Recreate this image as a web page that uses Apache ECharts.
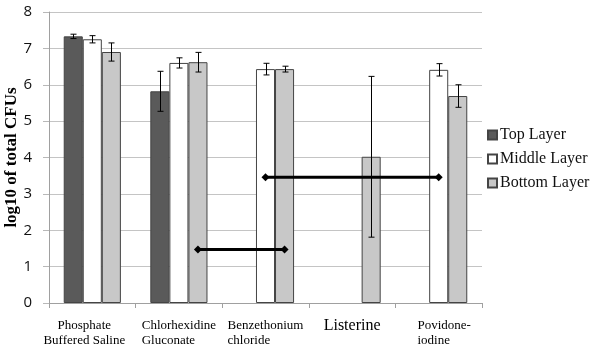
<!DOCTYPE html>
<html>
<head>
<meta charset="utf-8">
<script src="https://cdn.jsdelivr.net/npm/echarts@6/dist/echarts.min.js"></script>
<style>
  html, body { margin: 0; padding: 0; background: #fff; }
  #chart { width: 600px; height: 351px; }
</style>
</head>
<body>
<div id="chart"></div>
<script>
// data
const categories = ['Phosphate\nBuffered Saline', 'Chlorhexidine\nGluconate', 'Benzethonium\nchloride', 'Listerine', 'Povidone-\niodine'];
const layers = ['Top Layer', 'Middle Layer', 'Bottom Layer'];
const topLayer = [7.33, 5.82, '-', '-', '-'];
const middleLayer = [7.25, 6.60, 6.43, '-', 6.41];
const bottomLayer = [6.90, 6.62, 6.43, 4.02, 5.69];
const topErr = [0.06, 0.55, null, null, null];
const middleErr = [0.10, 0.14, 0.16, null, 0.17];
const bottomErr = [0.25, 0.27, 0.08, 2.21, 0.31];
// connectors: [fromCategory, fromLayer, toCategory, toLayer, y]
const connectors = [
  [1, 2, 2, 2, 1.47],
  [2, 1, 4, 1, 3.46]
];
const yTicks = [0, 1, 2, 3, 4, 5, 6, 7, 8];

const colors = ['#5a5a5a', '#ffffff', '#c8c8c8'];
const barShare = 0.22; // fraction of a category taken by one bar
// label style per category (the original labels are not all aligned alike)
const labelStyles = ['c', 'l', 'l', 'big', 'p'];

const chart = echarts.init(document.getElementById('chart'));

function errSeries(vals, errs, layer) {
  const data = [];
  vals.forEach((v, i) => {
    if (errs[i] != null && v !== '-') data.push([i, v - errs[i], v + errs[i]]);
  });
  return {
    type: 'custom',
    z: 5,
    silent: true,
    data: data,
    renderItem: function (params, api) {
      const band = api.size([1, 0])[0];
      const off = (layer - 1) * barShare * band;
      const lo = api.coord([api.value(0), api.value(1)]);
      const hi = api.coord([api.value(0), api.value(2)]);
      const x = Math.round(lo[0] + off) + 0.5;
      const style = { stroke: '#000', lineWidth: 1 };
      return {
        type: 'group',
        children: [
          { type: 'line', shape: { x1: x, y1: lo[1], x2: x, y2: hi[1] }, style: style },
          { type: 'line', shape: { x1: x - 3, y1: lo[1], x2: x + 3, y2: lo[1] }, style: style },
          { type: 'line', shape: { x1: x - 3, y1: hi[1], x2: x + 3, y2: hi[1] }, style: style }
        ]
      };
    }
  };
}

function diamond(x, y, r) {
  return { type: 'polygon', shape: { points: [[x, y - r], [x + r, y], [x, y + r], [x - r, y]] }, style: { fill: '#000' } };
}

const barStyle = (c) => ({ color: c, borderColor: '#444', borderWidth: 1 });
const serif = 'Liberation Serif';

chart.setOption({
  animation: false,
  grid: { left: 49, right: 118, top: 12, bottom: 48, outerBoundsMode: 'none', containLabel: false },
  legend: {
    orient: 'vertical',
    left: 487,
    top: 127,
    padding: 0,
    itemWidth: 9,
    itemHeight: 9,
    itemGap: 8,
    icon: 'rect',
    data: layers,
    textStyle: { fontFamily: serif, fontSize: 16, color: '#111', padding: [0, 0, 0, -2] }
  },
  xAxis: {
    type: 'category',
    data: categories,
    axisLine: { lineStyle: { color: '#a0a0a0' } },
    axisTick: { show: true, length: 5, lineStyle: { color: '#a0a0a0' } },
    axisLabel: {
      interval: 0,
      margin: 15,
      formatter: function (v, i) {
        const st = labelStyles[i];
        return v.split('\n').map(s => '{' + st + '|' + s + '}').join('\n');
      },
      rich: {
        l: { align: 'left', fontFamily: serif, fontSize: 13, color: '#000', lineHeight: 15 },
        c: { align: 'center', fontFamily: serif, fontSize: 13, color: '#000', lineHeight: 15, padding: [0, 16, 0, 0] },
        p: { align: 'left', fontFamily: serif, fontSize: 13, color: '#000', lineHeight: 15, padding: [0, 0, 0, 11] },
        big: { fontFamily: serif, fontSize: 16, color: '#000', padding: [0, 0, 12, 0] }
      }
    }
  },
  yAxis: {
    type: 'value',
    min: 0,
    max: 8,
    interval: 1,
    name: 'log10 of total CFUs',
    nameLocation: 'middle',
    nameGap: 29,
    nameMoveOverlap: false,
    nameTextStyle: { fontFamily: serif, fontWeight: 'bold', fontSize: 17, color: '#000' },
    axisLine: { show: true, lineStyle: { color: '#a0a0a0' } },
    axisTick: { show: true, length: 6, lineStyle: { color: '#b8b8b8' } },
    axisLabel: {
      margin: 17,
      fontFamily: 'Open Sans',
      fontSize: 15,
      color: '#111',
      formatter: v => yTicks.includes(v) ? String(v) : ''
    },
    splitLine: { lineStyle: { color: '#c4c4c4' } }
  },
  series: [
    { name: layers[0], type: 'bar', data: topLayer, barGap: '0%', barCategoryGap: '34%', itemStyle: barStyle(colors[0]) },
    { name: layers[1], type: 'bar', data: middleLayer, barGap: '0%', barCategoryGap: '34%', itemStyle: barStyle(colors[1]) },
    { name: layers[2], type: 'bar', data: bottomLayer, barGap: '0%', barCategoryGap: '34%', itemStyle: barStyle(colors[2]) },
    errSeries(topLayer, topErr, 0),
    errSeries(middleLayer, middleErr, 1),
    errSeries(bottomLayer, bottomErr, 2),
    {
      type: 'custom',
      z: 6,
      silent: true,
      data: connectors,
      renderItem: function (params, api) {
        const band = api.size([1, 0])[0];
        const a = api.coord([api.value(0), api.value(4)]);
        const b = api.coord([api.value(2), api.value(4)]);
        const x1 = a[0] + (api.value(1) - 1) * barShare * band;
        const x2 = b[0] + (api.value(3) - 1) * barShare * band;
        const y = a[1];
        return {
          type: 'group',
          children: [
            { type: 'line', shape: { x1: x1, y1: y, x2: x2, y2: y }, style: { stroke: '#000', lineWidth: 3 } },
            diamond(x1, y, 4),
            diamond(x2, y, 4)
          ]
        };
      }
    }
  ]
});
</script>
</body>
</html>
